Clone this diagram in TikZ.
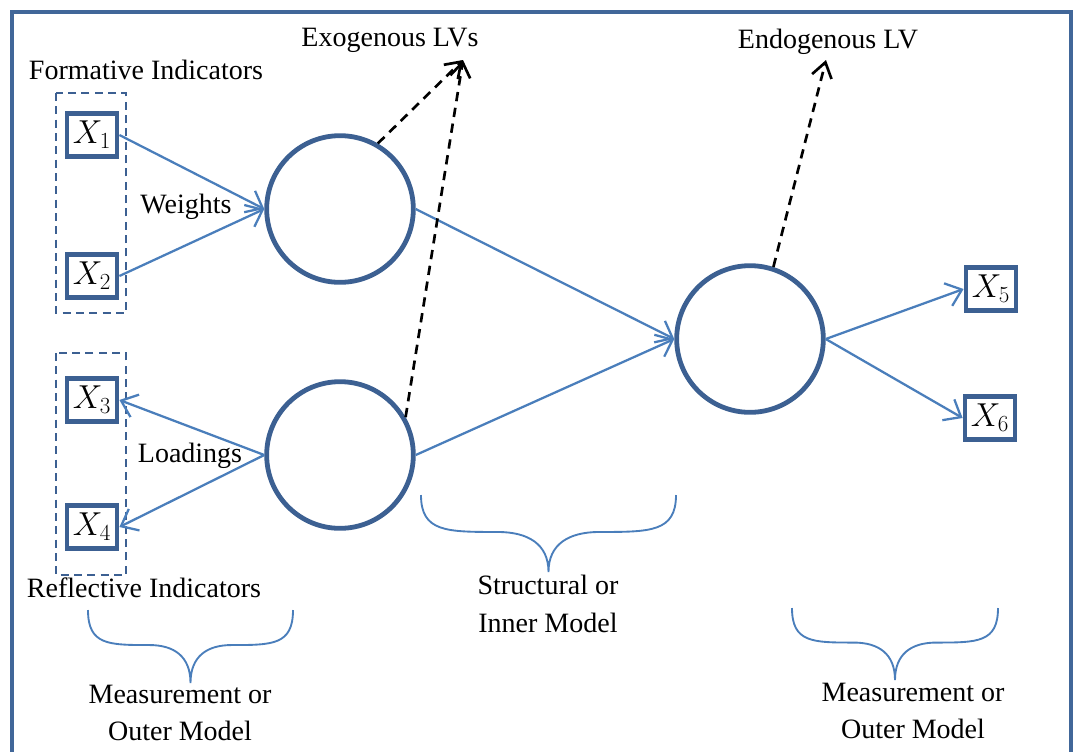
\documentclass[tikz,border=0pt]{standalone}
\usepackage{fontspec}
\setmainfont{Liberation Serif}
\usepackage{tikz}
\usetikzlibrary{arrows.meta}
\usetikzlibrary{calc}
\definecolor{lvblue}{RGB}{60,96,146}
\definecolor{pathblue}{RGB}{74,126,187}
\definecolor{frameblue}{RGB}{65,103,153}
\tikzstyle{mv}=[draw=lvblue,line width=3.6pt,fill=white,minimum width=37.5pt,
                minimum height=32.5pt,inner sep=0,font=\fontsize{23}{26}\selectfont]
\tikzstyle{lv}=[circle,draw=lvblue,line width=3.6pt,minimum size=110pt,inner sep=0]
\tikzstyle{rel}=[draw=pathblue,line width=1.7pt,-{Straight Barb[length=11pt,width=18pt]}]
\tikzstyle{pointer}=[draw=black,line width=2pt,dash pattern=on 7pt off 5pt,
                     -{Straight Barb[length=11pt,width=15pt]}]
\tikzstyle{group}=[draw=lvblue,line width=1.3pt,dash pattern=on 6pt off 4pt]
\tikzstyle{brace}=[draw=pathblue,line width=1.4pt]
\tikzstyle{lbl}=[font=\fontsize{21}{28}\selectfont,align=center,inner sep=0]
\begin{document}
\begin{tikzpicture}[x=0.75pt,y=-0.75pt]
\useasboundingbox (0,0) rectangle (1078,751);
\draw[frameblue,line width=2.4pt] (12,770) -- (12,12) -- (1071,12) -- (1071,770);
\node (x1) at (92,135) [mv] {$X_1$};
\node (x2) at (92,276) [mv] {$X_2$};
\node (x3) at (92,400) [mv] {$X_3$};
\node (x4) at (92,527) [mv] {$X_4$};
\node (x5) at (991,289) [mv] {$X_5$};
\node (x6) at (990,418) [mv] {$X_6$};
\draw[group] (56,93) rectangle (126,313);
\draw[group] (56,353) rectangle (126,575);
\node (exo1) at (340,209) [lv] {};
\node (exo2) at (340,455) [lv] {};
\node (endo) at (750,339) [lv] {};
\draw[rel] (x1.east) -- (exo1.west);
\draw[rel] (x2.east) -- (exo1.west);
\draw[rel] (exo2.west) -- (x3.east);
\draw[rel] (exo2.west) -- (x4.east);
\draw[rel] (exo1.east) -- (endo.west);
\draw[rel] (exo2.east) -- (endo.west);
\draw[rel] (endo.east) -- (x5.west);
\draw[rel] (endo.east) -- (x6.west);
\coordinate (exotip) at (463,60);
\coordinate (endotip) at (826,60);
\draw[pointer] (exo1.60) -- (exotip);
\draw[pointer] (exo2.30) -- (exotip);
\draw[pointer] (endo.72) -- (endotip);
\node (formative) at (146,70) [lbl] {Formative Indicators};
\node (reflective) at (144,588) [lbl] {Reflective Indicators};
\node (weights) at (186,207) [lbl] {Weights};
\node (loadings) at (190,456) [lbl] {Loadings};
\node (exolbl) at (390,40) [lbl] {Exogenous LVs};
\node (endolbl) at (828,42) [lbl] {Endogenous LV};
\node (outerl) at (180,713) [lbl] {Measurement or\\Outer Model};
\node (inner) at (548,604) [lbl] {Structural or\\Inner Model};
\node (outerr) at (913,711) [lbl] {Measurement or\\Outer Model};
\foreach \xa/\xb/\ya/\yb in {88/293/610/683,421/676/495/572,792/998/608/680}{
  \pgfmathsetmacro\bw{\xb-\xa}
  \pgfmathsetmacro\bm{(\xa+\xb)/2}
  \pgfmathsetmacro\bh{\ya+0.48*(\yb-\ya)}
  \pgfmathsetmacro\bv{\bh+0.3*(\yb-\bh)}
  \draw[brace] (\xa,\ya) .. controls (\xa,\bh) and ({\xa+0.1*\bw},\bh) .. ({\xa+0.3*\bw},\bh)
    .. controls ({\bm-0.08*\bw},\bh) and (\bm,\bv) .. (\bm,\yb)
    .. controls (\bm,\bv) and ({\bm+0.08*\bw},\bh) .. ({\xb-0.3*\bw},\bh)
    .. controls ({\xb-0.1*\bw},\bh) and (\xb,\bh) .. (\xb,\ya);
}
\end{tikzpicture}
\end{document}
